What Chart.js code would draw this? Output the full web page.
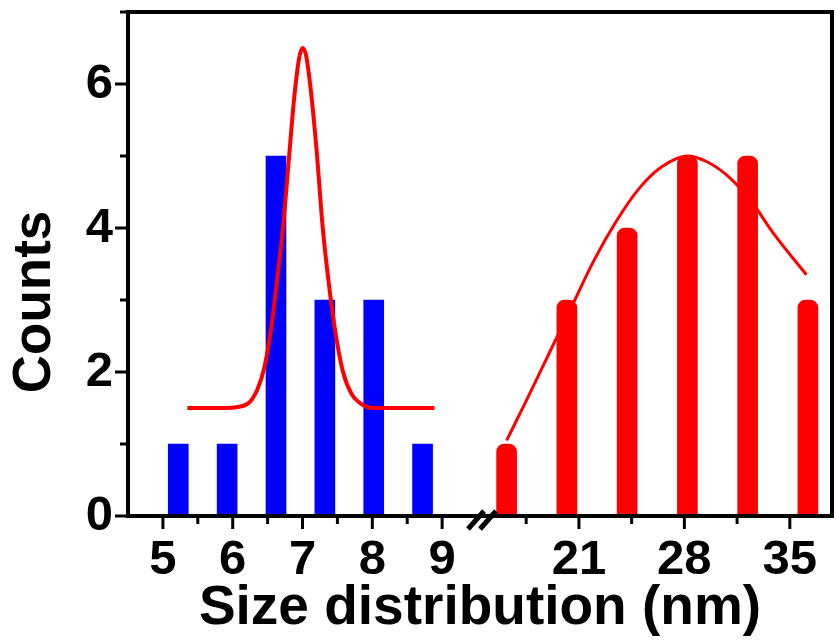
<!DOCTYPE html>
<html>
<head>
<meta charset="utf-8">
<script src="https://cdn.jsdelivr.net/npm/chart.js@4.4.1/dist/chart.umd.min.js"></script>
<style>
  html, body { margin: 0; padding: 0; background: #fff; }
  #wrap { width: 836px; height: 642px; }
</style>
</head>
<body>
<div id="wrap"><canvas id="chart" width="836" height="642"></canvas></div>
<script>
// histogram bins (nm) and counts
const sizesSmall = [5.22, 5.92, 6.62, 7.32, 8.02, 8.72];
const countsSmall = [1, 1, 5, 3, 3, 1];
const sizesLarge = [16.2, 20.2, 24.2, 28.2, 32.2, 36.2];
const countsLarge = [1, 3, 4, 5, 5, 3];

// fitted curves
const fitSmallX = [5.35, 5.9, 6.2, 6.35, 6.45, 6.55, 6.65, 6.72, 6.8, 6.88, 6.95, 7.0, 7.05, 7.12, 7.2, 7.29, 7.38, 7.48, 7.58, 7.7, 7.85, 8.0, 8.89];
const fitSmallY = [1.5, 1.5, 1.55, 1.75, 2.05, 2.6, 3.4, 4.0, 4.9, 5.8, 6.35, 6.5, 6.4, 5.9, 5.1, 4.0, 3.2, 2.5, 2.0, 1.7, 1.55, 1.5, 1.5];
const fitLargeX = [16.2, 17.5, 19, 20.5, 22, 23.5, 25, 26.5, 28.2, 29.5, 31, 32.5, 34, 36.1];
const fitLargeY = [1.05, 1.6, 2.25, 2.9, 3.55, 4.1, 4.55, 4.85, 5.0, 4.92, 4.7, 4.35, 3.9, 3.35];

// tick labels
const xTicksSmall = [5, 6, 7, 8, 9];
const xMinorSmall = [5.5, 6.5, 7.5, 8.5];
const xTicksLarge = [21, 28, 35];
const xMinorLarge = [17.5, 24.5, 31.5];
const yTicks = [0, 2, 4, 6];

// broken x axis: 4.5-9.5 full width, 14.5-37.8 squeezed after the break
const brk = { lo: 9.5, hi: 14.5, gap: 0.057, k: 0.2158, end: 37.8 };
function ax(v) {
  return v <= brk.lo ? v : brk.lo + brk.gap + (v - brk.hi) * brk.k;
}

const FONT = "'Liberation Sans', Arial, sans-serif";

const axisDecor = {
  id: "axisDecor",
  afterDatasetsDraw(chart) {
    const { ctx, chartArea: a, scales } = chart;
    const line = (x1, y1, x2, y2) => {
      ctx.beginPath(); ctx.moveTo(x1, y1); ctx.lineTo(x2, y2); ctx.stroke();
    };
    ctx.save();
    ctx.strokeStyle = "#000";
    ctx.lineWidth = 4;
    ctx.strokeRect(a.left, a.top, a.right - a.left, a.bottom - a.top);

    ctx.lineWidth = 3;
    scales.x.ticks.forEach(t => {
      const px = scales.x.getPixelForValue(t.value);
      line(px, a.bottom + 2, px, a.bottom + 2 + (t.lbl ? 11 : 6));
    });
    scales.y.ticks.forEach(t => {
      const py = scales.y.getPixelForValue(t.value);
      line(a.left - 2, py, a.left - 2 - (yTicks.includes(t.value) ? 11 : 6), py);
    });

    // break mark //
    const bx = scales.x.getPixelForValue(brk.lo + brk.gap / 2) + 3;
    ctx.lineWidth = 5;
    [-6, 6].forEach(d => line(bx + d - 8, a.bottom + 13, bx + d + 8, a.bottom - 5));

    // y title
    ctx.fillStyle = "#000";
    ctx.font = "bold 53px " + FONT;
    ctx.translate(50, 302);
    ctx.rotate(-Math.PI / 2);
    ctx.textAlign = "center";
    ctx.textBaseline = "alphabetic";
    ctx.fillText("Counts", 0, 0);
    ctx.restore();
  }
};

new Chart(document.getElementById("chart"), {
  data: {
    datasets: [
      {
        type: "line",
        data: fitSmallX.map((x, i) => ({ x: ax(x), y: fitSmallY[i] })),
        borderColor: "#ff0000",
        borderWidth: 4,
        pointRadius: 0,
        cubicInterpolationMode: "monotone",
        order: 0
      },
      {
        type: "line",
        data: fitLargeX.map((x, i) => ({ x: ax(x), y: fitLargeY[i] })),
        borderColor: "#ff0000",
        borderWidth: 3,
        pointRadius: 0,
        cubicInterpolationMode: "monotone",
        order: 0
      },
      {
        type: "bar",
        data: sizesSmall.map((s, i) => ({ x: ax(s), y: countsSmall[i] })),
        backgroundColor: "#0000ff",
        barThickness: 20,
        grouped: false,
        order: 1
      },
      {
        type: "bar",
        data: sizesLarge.map((s, i) => ({ x: ax(s), y: countsLarge[i] })),
        backgroundColor: "#ff0000",
        barThickness: 20,
        borderRadius: 8,
        borderSkipped: "bottom",
        grouped: false,
        order: 1
      }
    ]
  },
  options: {
    responsive: false,
    devicePixelRatio: 1,
    animation: false,
    layout: { padding: { top: 12, right: 4, bottom: 0, left: 0 } },
    plugins: { legend: { display: false }, tooltip: { enabled: false } },
    scales: {
      x: {
        type: "linear",
        offset: false,
        min: 4.5,
        max: ax(brk.end),
        grid: { display: false, drawTicks: false },
        border: { display: false },
        afterFit: s => { s.height = 126; s.paddingLeft = 0; s.paddingRight = 0; },
        afterBuildTicks: s => {
          const tk = [];
          xTicksSmall.forEach(v => tk.push({ value: ax(v), lbl: String(v) }));
          xMinorSmall.forEach(v => tk.push({ value: ax(v), lbl: "" }));
          xTicksLarge.forEach(v => tk.push({ value: ax(v), lbl: String(v) }));
          xMinorLarge.forEach(v => tk.push({ value: ax(v), lbl: "" }));
          s.ticks = tk.sort((p, q) => p.value - q.value);
        },
        ticks: {
          autoSkip: false,
          maxRotation: 0,
          minRotation: 0,
          padding: 15,
          color: "#000",
          font: { family: FONT, size: 49, weight: "bold" },
          callback: (v, i, ts) => ts[i].lbl
        },
        title: {
          display: true,
          text: "Size distribution (nm)",
          color: "#000",
          padding: { top: 0, bottom: 0 },
          font: { family: FONT, size: 55, weight: "bold" }
        }
      },
      y: {
        min: 0,
        max: 7,
        grid: { display: false, drawTicks: false },
        border: { display: false },
        afterFit: s => { s.width = 128; s.paddingTop = 0; s.paddingBottom = 0; },
        ticks: {
          stepSize: 1,
          padding: 15,
          color: "#000",
          font: { family: FONT, size: 49, weight: "bold" },
          callback: v => (yTicks.includes(v) ? v : "")
        }
      }
    }
  },
  plugins: [axisDecor]
});
</script>
</body>
</html>
